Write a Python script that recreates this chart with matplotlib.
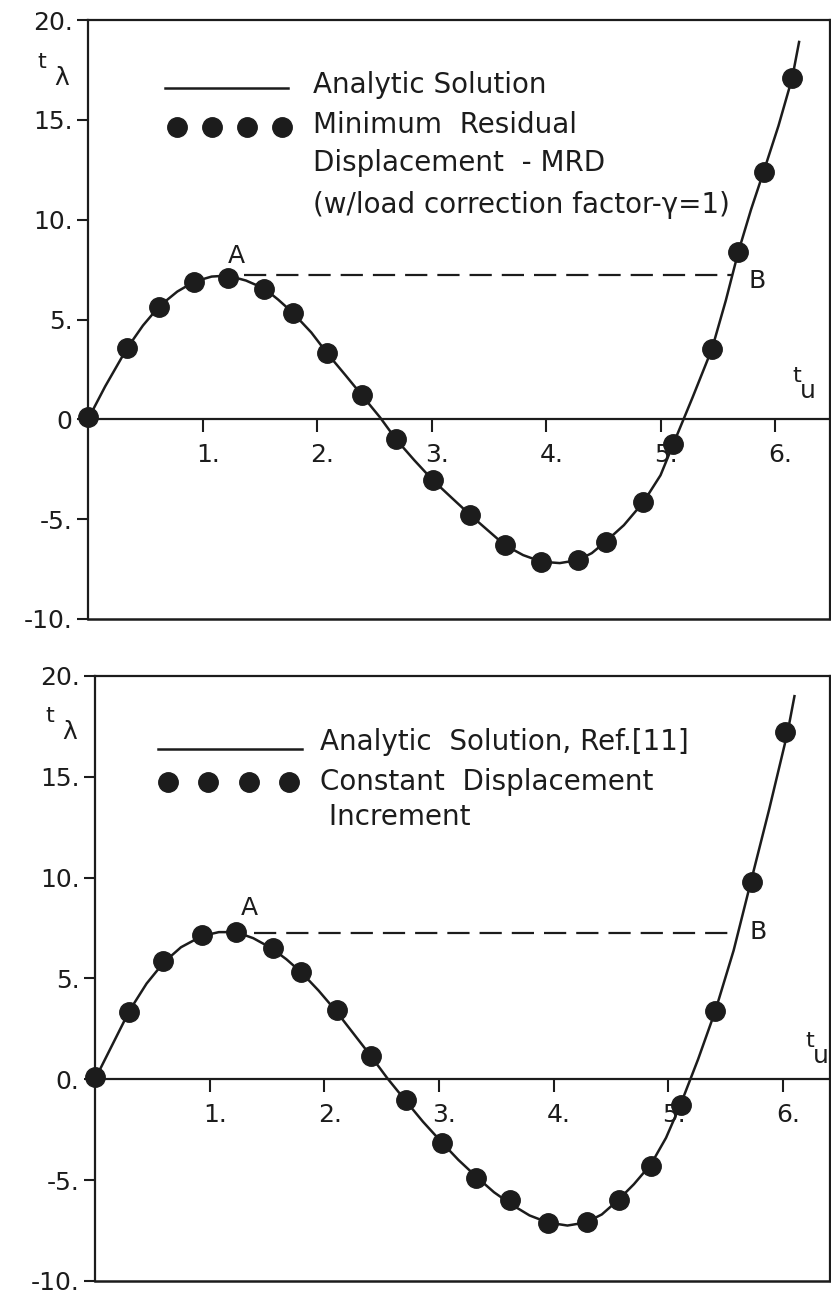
"""
Load-displacement path of a snap-through problem: the analytic
solution against two numerical path-following schemes.
"""
import matplotlib

matplotlib.use("Agg")
import matplotlib.pyplot as plt
from matplotlib.transforms import ScaledTranslation

# analytic solution as drawn in the bottom panel
curve_u = [0.0, 0.15, 0.30, 0.45, 0.60, 0.75, 0.93, 1.08, 1.23, 1.38, 1.54,
           1.67, 1.80, 1.95, 2.10, 2.25, 2.40, 2.55, 2.70, 2.86, 3.02, 3.17,
           3.33, 3.48, 3.63, 3.79, 3.95, 4.12, 4.28, 4.42, 4.56, 4.70, 4.85,
           4.98, 5.11, 5.26, 5.41, 5.57, 5.72, 5.88, 6.04, 6.10]
curve_lam = [0.0, 1.7, 3.4, 4.75, 5.8, 6.55, 7.1, 7.3, 7.3, 7.0, 6.5,
             5.95, 5.3, 4.4, 3.4, 2.3, 1.2, 0.05, -1.0, -2.1, -3.1, -4.0,
             -4.85, -5.6, -6.2, -6.75, -7.1, -7.25, -7.1, -6.7, -6.0, -5.2, -4.2,
             -2.9, -1.2, 1.0, 3.4, 6.4, 9.8, 13.4, 17.2, 19.0]

# the same solution as drawn in the top panel (right branch sits further out)
curve_top_u = [0.0, 0.15, 0.34, 0.48, 0.62, 0.78, 0.93, 1.08, 1.22, 1.38,
               1.54, 1.66, 1.79, 1.95, 2.09, 2.25, 2.39, 2.55, 2.69, 2.85,
               3.01, 3.18, 3.34, 3.50, 3.64, 3.80, 3.96, 4.12, 4.28, 4.40,
               4.52, 4.68, 4.85, 5.00, 5.11, 5.28, 5.45, 5.57, 5.68, 5.79,
               5.90, 6.03, 6.15, 6.21]
curve_top_lam = [0.0, 1.65, 3.55, 4.7, 5.65, 6.4, 6.9, 7.15, 7.2, 6.95,
                 6.55, 6.0, 5.33, 4.35, 3.3, 2.2, 1.22, 0.1, -1.0, -2.05,
                 -3.04, -3.95, -4.8, -5.6, -6.3, -6.8, -7.13, -7.2, -7.05, -6.7,
                 -6.13, -5.3, -4.15, -2.8, -1.26, 1.1, 3.54, 5.95, 8.4, 10.5,
                 12.4, 14.7, 17.1, 18.9]

# minimum residual displacement points (top panel)
mrd_u = [0.0, 0.34, 0.62, 0.93, 1.22, 1.54, 1.79, 2.09, 2.39, 2.69, 3.01,
         3.34, 3.64, 3.96, 4.28, 4.52, 4.85, 5.11, 5.45, 5.68, 5.90, 6.15]
mrd_lam = [0.1, 3.55, 5.65, 6.9, 7.1, 6.55, 5.33, 3.3, 1.22, -1.0, -3.04,
           -4.8, -6.3, -7.13, -7.05, -6.13, -4.15, -1.26, 3.54, 8.4, 12.4, 17.1]

# constant displacement increment points (bottom panel)
cdi_u = [0.0, 0.30, 0.59, 0.93, 1.23, 1.55, 1.80, 2.11, 2.41, 2.71, 3.03,
         3.32, 3.62, 3.95, 4.29, 4.57, 4.85, 5.11, 5.41, 5.73, 6.02]
cdi_lam = [0.1, 3.36, 5.87, 7.17, 7.3, 6.5, 5.33, 3.46, 1.17, -1.02, -3.15,
           -4.9, -6.0, -7.1, -7.05, -6.0, -4.3, -1.25, 3.37, 9.8, 17.2]

limit_load = 7.25  # level of the A - B line
x_ticks = [1, 2, 3, 4, 5, 6]
x_labels = ["1.", "2.", "3.", "4.", "5.", "6."]
y_ticks = [-10, -5, 0, 5, 10, 15, 20]
top_y_labels = ["-10.", "-5.", "0", "5.", "10.", "15.", "20."]
bottom_y_labels = ["-10.", "-5.", "0.", "5.", "10.", "15.", "20."]

top_texts = ["Analytic Solution", "Minimum  Residual",
             "Displacement  - MRD", "(w/load correction factor-\u03b3=1)"]
bottom_texts = ["Analytic  Solution, Ref.[11]", "Constant  Displacement",
                " Increment"]

INK = "#1c1c1c"
FONT = "DejaVu Sans"
FS = 18      # tick labels, A / B
FS_LEG = 20
MS = 14

W, H = 831, 1290


def px_axes(left, top, right, bottom):
    """Axes rectangle from pixel edges."""
    return [left / W, 1 - bottom / H, (right - left) / W, (bottom - top) / H]


def draw_panel(ax, cu, clam, u, lam, xmax, y_labels, seg, a_pos, b_pos,
               legend, texts):
    ax.plot(cu, clam, color=INK, lw=1.8, zorder=3)
    ax.plot(u, lam, ls="none", marker="o", ms=MS, color=INK, zorder=4,
            clip_on=False)
    ax.hlines(limit_load, seg[0], seg[1], colors=INK, lw=1.6,
              linestyles=(0, (10, 4.5)))
    ax.text(a_pos[0], a_pos[1], "A", ha="center", va="center",
            fontsize=FS, family=FONT, color=INK)
    ax.text(b_pos[0], b_pos[1], "B", ha="center", va="center",
            fontsize=FS, family=FONT, color=INK)

    ax.set_xlim(0, xmax)
    ax.set_ylim(-10, 20)
    ax.spines["bottom"].set_position(("data", 0))
    ax.axhline(-10, color=INK, lw=1.8, clip_on=False)
    for s in ax.spines.values():
        s.set_linewidth(1.6)
        s.set_color(INK)

    ax.set_xticks(x_ticks)
    ax.set_xticklabels(x_labels)
    ax.set_yticks(y_ticks)
    ax.set_yticklabels(y_labels)
    ax.tick_params(axis="x", direction="out", length=9, width=1.5, pad=8,
                   labelsize=FS, colors=INK)
    ax.tick_params(axis="y", direction="out", length=8, width=1.5, pad=3,
                   labelsize=FS, colors=INK)
    # the digit, not the whole "n." string, sits under the tick
    shift = ScaledTranslation(4 / 72, 0, ax.figure.dpi_scale_trans)
    for lab in ax.get_xticklabels():
        lab.set_transform(lab.get_transform() + shift)
    for lab in ax.get_xticklabels() + ax.get_yticklabels():
        lab.set_family(FONT)

    # hand-made legend block
    lx0, lx1, ly, dx0, dx1, dy, tx, tys = legend
    ax.plot([lx0, lx1], [ly, ly], color=INK, lw=1.8, transform=ax.transAxes)
    n = 4
    dxs = [dx0 + i * (dx1 - dx0) / (n - 1) for i in range(n)]
    ax.plot(dxs, [dy] * n, ls="none", marker="o", ms=MS, color=INK,
            transform=ax.transAxes)
    for t, ty in zip(texts, tys):
        ax.text(tx, ty, t, transform=ax.transAxes, ha="left", va="center",
                fontsize=FS_LEG, family=FONT, color=INK)


fig = plt.figure(figsize=(W / 100, H / 100), dpi=100)
ax1 = fig.add_axes(px_axes(88, 20, 830, 619))
ax2 = fig.add_axes(px_axes(95, 676, 830, 1281))

draw_panel(ax1, curve_top_u, curve_top_lam, mrd_u, mrd_lam, 6.48,
           top_y_labels, (1.36, 5.62), (1.30, 8.2), (5.84, 6.95),
           (0.104, 0.270, 0.886, 0.120, 0.261, 0.822, 0.303,
            [0.891, 0.825, 0.761, 0.691]), top_texts)
draw_panel(ax2, curve_u, curve_lam, cdi_u, cdi_lam, 6.41,
           bottom_y_labels, (1.39, 5.55), (1.35, 8.5), (5.78, 7.3),
           (0.086, 0.282, 0.879, 0.099, 0.264, 0.825, 0.306,
            [0.891, 0.825, 0.767]), bottom_texts)

# axis names: left superscript t
for ax, (tx, ty), (ux, uy) in [(ax1, (42, 62), (797, 376)),
                               (ax2, (50, 716), (810, 1041))]:
    fig.text(tx / W, 1 - ty / H, "t", fontsize=16, family=FONT, color=INK,
             ha="center", va="center")
    fig.text((tx + 20) / W, 1 - (ty + 16) / H, "\u03bb", fontsize=18,
             family=FONT, color=INK, ha="center", va="center")
    fig.text(ux / W, 1 - uy / H, "t", fontsize=16, family=FONT, color=INK,
             ha="center", va="center")
    fig.text((ux + 11) / W, 1 - (uy + 15) / H, "u", fontsize=18,
             family=FONT, color=INK, ha="center", va="center")

fig.savefig("out.png", dpi=100, facecolor="white")
